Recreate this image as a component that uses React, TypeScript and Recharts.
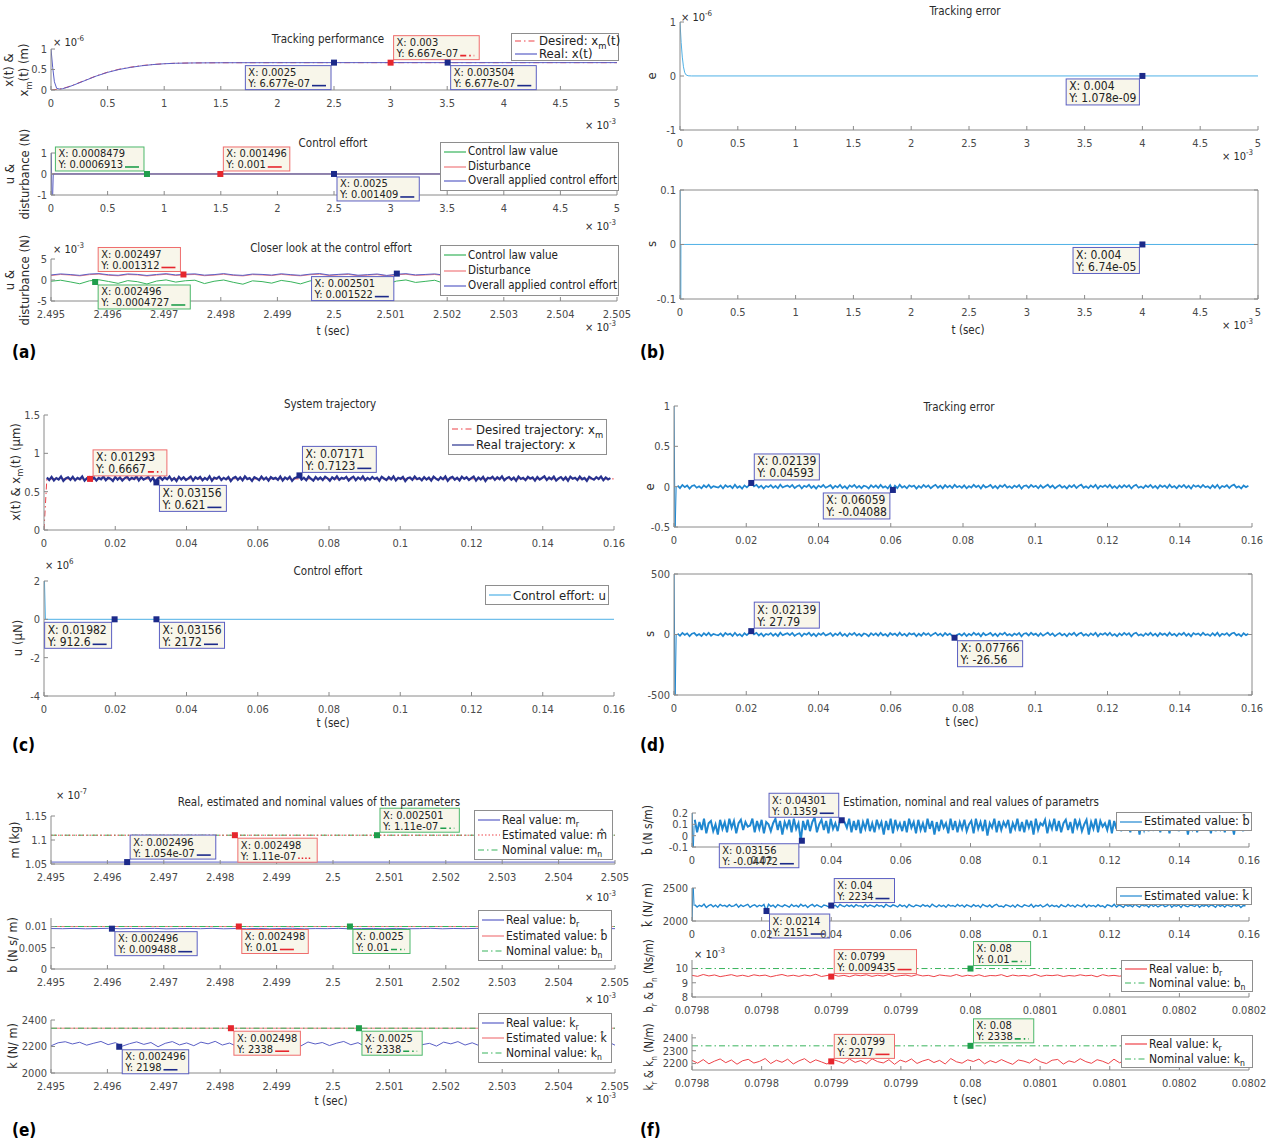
import React from "react";
import { LineChart, Line, XAxis, YAxis, ReferenceDot } from "recharts";

const FONT = '"Liberation Sans Narrow", "DejaVu Sans Condensed", "Liberation Sans", Arial, sans-serif';

// ---------- tick sets ----------
const X_MS = [0, 0.5, 1, 1.5, 2, 2.5, 3, 3.5, 4, 4.5, 5];
const X_ZOOM = [2.495, 2.496, 2.497, 2.498, 2.499, 2.5, 2.501, 2.502, 2.503, 2.504, 2.505];
const X_LONG = [0, 0.02, 0.04, 0.06, 0.08, 0.1, 0.12, 0.14, 0.16];
const X_F = [0.0798, 0.07985, 0.0799, 0.07995, 0.08, 0.08005, 0.0801, 0.08015, 0.0802];
const X_F_LABELS = ["0.0798", "0.0798", "0.0799", "0.0799", "0.08", "0.0801", "0.0801", "0.0802", "0.0802"];

// ---------- (a) x in 10^-3 s ----------
const A1_T = [0, 0.015, 0.03, 0.05, 0.08, 0.1, 0.15, 0.2, 0.3, 0.4, 0.5, 0.6, 0.7, 0.8, 0.9, 1.0, 1.1, 1.25, 1.5, 2.0, 3.0, 5.0];
const A1_REAL = [1.0, 0.55, 0.2, 0.04, 0.02, 0.03, 0.07, 0.12, 0.23, 0.34, 0.43, 0.5, 0.55, 0.59, 0.62, 0.64, 0.652, 0.66, 0.665, 0.667, 0.6677, 0.6677];
const A1_DES_T = [0, 0.05, 0.1, 0.15, 0.2, 0.3, 0.4, 0.5, 0.6, 0.7, 0.8, 0.9, 1.0, 1.1, 1.25, 1.5, 2.0, 3.0, 5.0];
const A1_DES = [0, 0.015, 0.035, 0.075, 0.125, 0.235, 0.345, 0.435, 0.505, 0.555, 0.595, 0.622, 0.641, 0.653, 0.66, 0.665, 0.6667, 0.6667, 0.6667];
const A1_TIPS = [[2.5, 0.6677, "0.0025", "6.677e-07"], [3.0, 0.6667, "0.003", "6.667e-07"], [3.504, 0.6677, "0.003504", "6.677e-07"]];

const A2_T = [0, 0.01, 0.02, 5];
const A2_OVERALL = [2, -2, 0.0014, 0.0014];
const A2_FLAT_T = [0, 5];
const A2_CTRL = [0.0007, 0.0007];
const A2_DIST = [0.001, 0.001];
const A2_TIPS = [[0.8479, 0.0006913, "0.0008479", "0.0006913"], [1.496, 0.001, "0.001496", "0.001"], [2.5, 0.001409, "0.0025", "0.001409"]];

// closer look, y in 10^-3 N
const A3_DIST = [1.05, 1.32, 1.18, 0.98, 1.27, 1.41, 1.12, 1.0, 1.3, 1.22, 0.95, 1.18, 1.36, 1.08, 1.25, 1.31, 1.02, 1.16, 1.38, 1.1,
  0.97, 1.28, 1.2, 1.05, 1.34, 1.14, 0.99, 1.26, 1.39, 1.07, 1.21, 1.33, 1.01, 1.15, 1.29, 0.96, 1.24, 1.37, 1.09, 1.19,
  1.31, 1.03, 1.17, 1.35, 1.11, 0.98, 1.27, 1.23, 1.06, 1.32, 1.13, 1.0, 1.29, 1.4, 1.08, 1.2, 1.34, 1.04, 1.25, 1.16];
const A3_OVERALL = [1.2, 1.45, 1.3, 1.1, 1.42, 1.52, 1.25, 1.12, 1.44, 1.33, 1.08, 1.31, 1.5, 1.2, 1.38, 1.46, 1.15, 1.28, 1.52, 1.22,
  1.1, 1.41, 1.33, 1.17, 1.48, 1.27, 1.11, 1.39, 1.53, 1.19, 1.34, 1.47, 1.14, 1.27, 1.43, 1.09, 1.37, 1.51, 1.21, 1.32,
  1.45, 1.16, 1.3, 1.49, 1.24, 1.1, 1.4, 1.36, 1.18, 1.46, 1.26, 1.12, 1.43, 1.54, 1.2, 1.33, 1.48, 1.16, 1.38, 1.29];
const A3_CTRL = [-0.3, -0.05, -0.45, -0.9, -0.2, 0.05, -0.35, -0.8, -0.15, -0.4, -0.95, -0.25, 0.02, -0.5, -0.18, -0.05, -0.85, -0.3, 0.0, -0.55,
  -1.0, -0.2, -0.38, -0.75, -0.1, -0.42, -0.92, -0.22, 0.03, -0.6, -0.28, -0.08, -0.88, -0.35, -0.12, -0.98, -0.26, 0.01, -0.58, -0.33,
  -0.06, -0.82, -0.4, -0.02, -0.48, -0.94, -0.16, -0.3, -0.7, -0.04, -0.44, -0.9, -0.14, 0.04, -0.62, -0.32, -0.07, -0.86, -0.24, -0.36];
const A3_TIPS = [[2.49734, 1.312, "0.002497", "0.001312"], [2.49578, -0.4727, "0.002496", "-0.0004727"], [2.50111, 1.522, "0.002501", "0.001522"]];

// ---------- (b) ----------
const B1_T = [0, 0.01, 0.02, 0.03, 0.04, 0.05, 0.07, 0.1, 5];
const B1_E = [1, 0.62, 0.35, 0.17, 0.07, 0.025, 0.004, 0.001, 0.001];
const B1_TIPS = [[4, 0.001078, "0.004", "1.078e-09"]];
const B2_T = [0, 0.004, 0.008, 5];
const B2_S = [0.5, -0.5, 0.0001, 0.0000674];
const B2_TIPS = [[4, 0.0000674, "0.004", "6.74e-05"]];

// ---------- (c) ----------
const C1_DES_T = [0, 0.0008, 0.16];
const C1_DES = [0, 0.6667, 0.6667];
const C1_REAL = [
  0.684, 0.651, 0.692, 0.646, 0.677, 0.659, 0.698, 0.641, 0.673, 0.688, 0.655, 0.694, 0.648, 0.681, 0.662, 0.699, 0.643, 0.676, 0.69, 0.652,
  0.686, 0.645, 0.679, 0.661, 0.697, 0.65, 0.683, 0.668, 0.64, 0.693, 0.657, 0.687, 0.644, 0.675, 0.696, 0.653, 0.68, 0.664, 0.7, 0.647,
  0.689, 0.658, 0.674, 0.695, 0.642, 0.682, 0.621, 0.671, 0.691, 0.654, 0.685, 0.663, 0.698, 0.649, 0.678, 0.639, 0.694, 0.66, 0.686, 0.651,
  0.673, 0.697, 0.645, 0.688, 0.666, 0.692, 0.648, 0.679, 0.656, 0.7, 0.643, 0.684, 0.67, 0.695, 0.652, 0.681, 0.661, 0.69, 0.638, 0.676,
  0.693, 0.655, 0.687, 0.647, 0.699, 0.664, 0.678, 0.641, 0.689, 0.672, 0.65, 0.696, 0.658, 0.683, 0.644, 0.691, 0.667, 0.68, 0.653, 0.698,
  0.646, 0.685, 0.662, 0.694, 0.64, 0.677, 0.688, 0.712, 0.657, 0.682, 0.649, 0.697, 0.669, 0.643, 0.69, 0.659, 0.684, 0.651, 0.695, 0.674,
  0.642, 0.687, 0.663, 0.699, 0.654, 0.68, 0.668, 0.692, 0.645, 0.676, 0.696, 0.65, 0.685, 0.661, 0.7, 0.648, 0.679, 0.657, 0.691, 0.665,
  0.683, 0.641, 0.694, 0.672, 0.652, 0.689, 0.66, 0.698, 0.646, 0.681, 0.667, 0.693, 0.639, 0.675, 0.686, 0.655, 0.697, 0.663, 0.678, 0.649,
  0.69, 0.658, 0.684, 0.644, 0.696, 0.67, 0.651, 0.687, 0.662, 0.699, 0.643, 0.679, 0.692, 0.656, 0.682, 0.647, 0.694, 0.666, 0.688, 0.653,
  0.677, 0.698, 0.645, 0.685, 0.66, 0.693, 0.64, 0.681, 0.671, 0.695, 0.654, 0.689, 0.663, 0.7, 0.648, 0.676, 0.691, 0.657, 0.683, 0.642,
  0.697, 0.665, 0.68, 0.65, 0.694, 0.669, 0.686, 0.644, 0.692, 0.659, 0.678, 0.699, 0.652, 0.684, 0.661, 0.696, 0.646, 0.673, 0.69, 0.655,
  0.687, 0.643, 0.695, 0.668, 0.682, 0.651, 0.698, 0.662, 0.679, 0.641, 0.693, 0.674, 0.656, 0.689, 0.666, 0.697, 0.649, 0.685, 0.66, 0.677];
const C1_TIPS = [[0.01293, 0.6667, "0.01293", "0.6667"], [0.03156, 0.621, "0.03156", "0.621"], [0.07171, 0.7123, "0.07171", "0.7123"]];
const C2_T = [0, 0.0004, 0.16];
const C2_U = [3, 0.0009, 0.002];
const C2_TIPS = [[0.01982, 0.0009126, "0.01982", "912.6"], [0.03156, 0.002172, "0.03156", "2172"]];

// ---------- (d) ----------
const D_T0 = [0, 0.0003, 0.0006];
const D1_E0 = [1, -0.6, 0];
const D1_E = [
  0.012, -0.018, 0.021, -0.006, 0.015, -0.024, 0.009, 0.019, -0.013, 0.004, -0.021, 0.017, -0.009, 0.023, -0.016, 0.007, -0.003, -0.011, 0.014, -0.022,
  0.018, -0.004, 0.011, -0.019, 0.024, -0.014, 0.006, -0.025, 0.016, -0.008, 0.02, 0.046, 0.003, 0.022, -0.012, 0.013, -0.023, 0.008, -0.005, 0.019,
  -0.015, 0.01, -0.02, 0.025, -0.01, 0.004, 0.015, -0.007, 0.021, -0.018, 0.005, 0.017, -0.022, 0.012, -0.003, 0.023, -0.016, 0.009, -0.024, 0.014,
  -0.006, 0.02, -0.013, 0.002, 0.018, -0.021, 0.011, -0.009, 0.024, -0.017, 0.007, -0.025, 0.016, -0.004, 0.021, -0.014, 0.01, -0.019, 0.013, 0.003,
  -0.022, 0.018, -0.008, 0.015, -0.016, 0.022, -0.011, 0.006, -0.023, 0.019, -0.041, 0.012, -0.018, 0.024, -0.012, 0.008, -0.02, 0.017, -0.002, 0.014,
  -0.024, 0.01, -0.015, 0.021, -0.007, 0.016, -0.019, 0.005, 0.023, -0.013, 0.011, -0.021, 0.019, -0.01, 0.013, -0.017, 0.022, -0.006, 0.009, -0.014,
  0.017, -0.02, 0.008, -0.012, 0.023, -0.005, 0.014, -0.024, 0.019, -0.009, 0.003, 0.021, -0.016, 0.01, -0.022, 0.015, -0.003, 0.024, -0.011, 0.006,
  -0.018, 0.013, -0.007, 0.02, -0.025, 0.009, 0.016, -0.013, 0.022, -0.004, 0.011, -0.02, 0.018, -0.015, 0.005, 0.024, -0.01, 0.014, -0.021, 0.002,
  0.019, -0.012, 0.007, -0.023, 0.015, -0.006, 0.021, -0.017, 0.01, 0.025, -0.014, 0.004, -0.019, 0.016, -0.008, 0.022, -0.024, 0.012, -0.003, 0.018,
  -0.009, 0.023, -0.016, 0.006, -0.021, 0.014, -0.011, 0.02, -0.005, 0.017, -0.023, 0.009, 0.024, -0.013, 0.003, -0.018, 0.015, -0.007, 0.021, -0.014,
  0.01, -0.022, 0.018, -0.004, 0.013, -0.017, 0.024, -0.01, 0.007, -0.02, 0.016, -0.006, 0.022, -0.015, 0.011, -0.025, 0.019, -0.002, 0.014, -0.012,
  0.021, -0.008, 0.005, -0.019, 0.017, -0.013, 0.023, -0.021, 0.009, -0.004, 0.018, -0.016, 0.012, 0.025, -0.011, 0.006, -0.023, 0.015, -0.007, 0.011];
const D1_TIPS = [[0.02139, 0.04593, "0.02139", "0.04593"], [0.06059, -0.04088, "0.06059", "-0.04088"]];
const D2_S0 = [600, -600, 0];
const D2_S = [
  8, -11, 13, -4, 10, -14, 6, 12, -9, 3, -13, 11, -6, 14, -10, 5, -2, -7, 9, -13,
  12, -3, 7, -12, 14, -9, 4, -15, 10, -5, 13, 28, 2, 14, -8, 9, -14, 5, -3, 12,
  -10, 7, -13, 15, -6, 3, 10, -5, 13, -11, 3, 11, -14, 8, -2, 14, -10, 6, -15, 9,
  -4, 13, -8, 1, 12, -13, 7, -6, 15, -11, 5, -15, 10, -3, 13, -9, 6, -12, 8, 2,
  -14, 11, -5, 10, -10, 14, -7, 4, -14, 12, -3, 8, -11, 15, -8, 5, -13, 11, -1, 9,
  -15, 6, -10, 13, -4, 10, -12, 3, 14, -8, 7, -13, 12, -6, 8, -11, -27, -4, 6, -9,
  11, -13, 5, -8, 15, -3, 9, -15, 12, -6, 2, 13, -10, 7, -14, 10, -2, 15, -7, 4,
  -12, 8, -4, 13, -15, 6, 10, -8, 14, -3, 7, -13, 11, -10, 3, 15, -6, 9, -14, 1,
  12, -8, 5, -15, 10, -4, 14, -11, 6, 15, -9, 3, -12, 10, -5, 14, -15, 8, -2, 12,
  -6, 15, -10, 4, -14, 9, -7, 13, -3, 11, -15, 6, 15, -8, 2, -12, 10, -5, 14, -9,
  7, -14, 12, -3, 8, -11, 15, -6, 5, -13, 10, -4, 14, -10, 7, -15, 12, -1, 9, -8,
  14, -5, 3, -12, 11, -8, 15, -14, 6, -3, 12, -10, 8, 15, -7, 4, -15, 10, -5, 7];
const D2_TIPS = [[0.02139, 27.79, "0.02139", "27.79"], [0.07766, -26.56, "0.07766", "-26.56"]];

// ---------- (e) x in 10^-3 s ----------
const E_FLAT_T = [2.495, 2.505];
const E1_REAL = [1.054, 1.054];
const E1_EST = [1.11, 1.11];
const E1_NOM = [1.11, 1.11];
const E1_TIPS = [[2.49635, 1.054, "0.002496", "1.054e-07"], [2.49826, 1.11, "0.002498", "1.11e-07"], [2.50078, 1.11, "0.002501", "1.11e-07"]];
const E2_REAL = [0.00952, 0.00948, 0.00955, 0.00946, 0.00951, 0.00957, 0.00947, 0.00953, 0.00949, 0.00956, 0.00945, 0.0095, 0.00954, 0.00948, 0.00957, 0.00946, 0.00952, 0.00949, 0.00955, 0.00947,
  0.00953, 0.00958, 0.00946, 0.00951, 0.00949, 0.00956, 0.00945, 0.00952, 0.00954, 0.00948, 0.00955, 0.00947, 0.0095, 0.00957, 0.00946, 0.00953, 0.00949, 0.00956, 0.00945, 0.00951,
  0.00954, 0.00948, 0.00957, 0.00946, 0.00952, 0.0095, 0.00955, 0.00947, 0.00953, 0.00949];
const E2_EST = [0.01, 0.01];
const E2_NOM = [0.01, 0.01];
const E2_TIPS = [[2.49608, 0.009488, "0.002496", "0.009488"], [2.49833, 0.01, "0.002498", "0.01"], [2.5003, 0.01, "0.0025", "0.01"]];
const E3_REAL = [2205, 2228, 2236, 2219, 2232, 2210, 2225, 2238, 2214, 2229, 2203, 2221, 2235, 2216, 2230, 2198, 2224, 2237, 2212, 2227,
  2206, 2233, 2220, 2239, 2211, 2226, 2202, 2231, 2218, 2236, 2209, 2223, 2240, 2215, 2228, 2204, 2234, 2219, 2230, 2207,
  2225, 2238, 2213, 2229, 2200, 2222, 2236, 2217, 2232, 2208, 2227, 2239, 2214, 2224, 2203, 2233, 2220, 2237, 2211, 2228,
  2206, 2231, 2216, 2235, 2209, 2226, 2240, 2218, 2223, 2201, 2234, 2221, 2238, 2212, 2229, 2205, 2232, 2219, 2236, 2210];
const E3_EST = [2338, 2338];
const E3_NOM = [2338, 2338];
const E3_TIPS = [[2.49621, 2198, "0.002496", "2198"], [2.49819, 2338, "0.002498", "2338"], [2.50046, 2338, "0.0025", "2338"]];

// ---------- (f) ----------
const F1_B0 = [0.3, -0.2, 0.09];
const F1_B = [
  0.14, 0.03, 0.12, 0.05, 0.15, 0.02, 0.11, 0.13, 0.04, 0.1, 0.01, 0.14, 0.06, 0.12, 0.03, 0.15, 0.07, 0.13, 0.02, 0.11,
  0.14, 0.05, 0.12, 0.08, 0.09, 0.15, 0.03, 0.13, 0.06, 0.14, 0.02, 0.12, 0.1, 0.04, 0.11, 0.15, 0.05, 0.13, 0.01, 0.12,
  0.07, 0.14, 0.03, 0.15, 0.06, 0.11, -0.045, 0.13, 0.05, 0.14, 0.04, 0.12, 0.16, 0.03, 0.1, 0.14, 0.05, 0.13, 0.02, 0.15,
  0.06, 0.11, 0.04, 0.14, 0.136, 0.12, 0.07, 0.15, 0.03, 0.13, 0.05, 0.14, 0.02, 0.12, 0.06, 0.15, 0.04, 0.11, 0.03, 0.14,
  0.07, 0.12, 0.01, 0.13, 0.05, 0.15, 0.02, 0.14, 0.06, 0.11, 0.04, 0.13, 0.03, 0.15, 0.07, 0.12, 0.02, 0.14, 0.05, 0.11,
  0.03, 0.15, 0.06, 0.13, 0.01, 0.12, 0.04, 0.14, 0.07, 0.11, 0.02, 0.15, 0.05, 0.13, 0.03, 0.12, 0.06, 0.14, 0.04, 0.1,
  0.13, 0.02, 0.15, 0.06, 0.12, 0.04, 0.14, 0.0, 0.11, 0.07, 0.15, 0.03, 0.13, 0.05, 0.12, 0.08, 0.14, 0.02, 0.11, 0.06,
  0.15, 0.04, 0.12, 0.03, 0.14, 0.07, 0.13, 0.01, 0.15, 0.05, 0.11, 0.09, 0.14, 0.02, 0.12, 0.06, 0.15, 0.04, 0.13, 0.03,
  0.11, 0.14, 0.05, 0.12, 0.02, 0.15, 0.07, 0.13, 0.04, 0.1, 0.14, 0.01, 0.12, 0.06, 0.15, 0.03, 0.13, 0.08, 0.11, 0.05,
  0.14, 0.02, 0.13, 0.06, 0.15, 0.04, 0.11, 0.09, 0.12, 0.03, 0.14, 0.07, 0.15, 0.01, 0.13, 0.05, 0.12, 0.04, 0.14, 0.06,
  0.1, 0.15, 0.03, 0.12, 0.07, 0.14, 0.02, 0.13, 0.05, 0.15, 0.04, 0.11, 0.08, 0.14, 0.01, 0.12, 0.06, 0.15, 0.03, 0.13,
  0.05, 0.14, 0.07, 0.11, 0.02, 0.15, 0.04, 0.12, 0.06, 0.13, 0.03, 0.14, 0.08, 0.11, 0.01, 0.15, 0.05, 0.12, 0.04, 0.13];
const F1_TIPS = [[0.04301, 0.1359, "0.04301", "0.1359"], [0.03156, -0.04472, "0.03156", "-0.04472"]];
const F2_K0 = [1900, 2600, 2230];
const F2_K = [
  2245, 2212, 2238, 2221, 2256, 2205, 2233, 2249, 2216, 2241, 2208, 2252, 2226, 2237, 2214, 2247, 2219, 2229, 2255, 2210,
  2243, 2219, 2236, 2251, 2207, 2232, 2246, 2215, 2239, 2224, 2250, 2151, 2253, 2222, 2240, 2206, 2248, 2228, 2217, 2244,
  2230, 2209, 2250, 2220, 2237, 2213, 2254, 2225, 2242, 2204, 2235, 2251, 2218, 2246, 2227, 2210, 2243, 2232, 2215, 2234,
  2223, 2238, 2207, 2252, 2229, 2216, 2245, 2221, 2240, 2211, 2247, 2226, 2233, 2208, 2250, 2219, 2241, 2230, 2214, 2248,
  2224, 2236, 2209, 2253, 2228, 2217, 2244, 2231, 2212, 2246, 2222, 2239, 2206, 2251, 2227, 2215, 2242, 2233, 2218, 2249,
  2225, 2237, 2210, 2254, 2229, 2213, 2245, 2220, 2238, 2207, 2248, 2226, 2235, 2216, 2250, 2223, 2241, 2211, 2244, 2230,
  2214, 2247, 2222, 2239, 2205, 2251, 2231, 2218, 2243, 2209, 2236, 2253, 2220, 2228, 2211, 2246, 2234, 2216, 2241, 2207,
  2249, 2226, 2213, 2244, 2232, 2219, 2252, 2208, 2237, 2224, 2245, 2212, 2229, 2255, 2217, 2240, 2221, 2233, 2206, 2247,
  2227, 2215, 2250, 2223, 2238, 2210, 2246, 2230, 2218, 2253, 2209, 2242, 2225, 2236, 2214, 2248, 2221, 2231, 2204, 2244,
  2235, 2219, 2252, 2212, 2241, 2228, 2207, 2249, 2224, 2237, 2216, 2254, 2230, 2211, 2245, 2226, 2239, 2208, 2251, 2220,
  2242, 2213, 2233, 2247, 2218, 2229, 2256, 2210, 2238, 2223, 2244, 2206, 2250, 2227, 2215, 2240, 2232, 2219, 2253, 2209,
  2236, 2225, 2248, 2214, 2243, 2231, 2207, 2252, 2222, 2239, 2211, 2246, 2228, 2217, 2250, 2224, 2241, 2205, 2234, 2230];
const F2_TIPS = [[0.04, 2234, "0.04", "2234"], [0.0214, 2151, "0.0214", "2151"]];
const F_FLAT_T = [0.0798, 0.0802];
const F3_REAL = [9.52, 9.45, 9.58, 9.48, 9.55, 9.43, 9.5, 9.57, 9.46, 9.53, 9.44, 9.56, 9.49, 9.54, 9.42, 9.51, 9.58, 9.47, 9.53, 9.45,
  9.55, 9.48, 9.6, 9.44, 9.51, 9.57, 9.46, 9.52, 9.43, 9.55, 9.49, 9.56, 9.45, 9.53, 9.47, 9.59, 9.44, 9.5, 9.54, 9.46,
  9.57, 9.48, 9.52, 9.43, 9.55, 9.5, 9.46, 9.58, 9.45, 9.53, 9.47, 9.56, 9.44, 9.51, 9.49, 9.57, 9.43, 9.54, 9.48, 9.52,
  9.46, 9.59, 9.45, 9.53, 9.5, 9.55, 9.44, 9.51, 9.47, 9.56, 9.49, 9.53, 9.42, 9.57, 9.48, 9.52, 9.46, 9.55, 9.5, 9.44,
  9.58, 9.47, 9.53, 9.45, 9.56, 9.49, 9.51, 9.43, 9.54, 9.48, 9.57, 9.46, 9.52, 9.5, 9.44, 9.55, 9.47, 9.53, 9.49, 9.51];
const F3_NOM = [10, 10];
const F3_TIPS = [[0.0799, 9.435, "0.0799", "0.009435"], [0.08, 10, "0.08", "0.01"]];
const F4_REAL = [2225, 2203, 2231, 2198, 2219, 2236, 2207, 2228, 2195, 2222, 2233, 2204, 2217, 2239, 2200, 2226, 2210, 2234, 2197, 2221,
  2238, 2206, 2229, 2213, 2196, 2232, 2218, 2202, 2235, 2209, 2224, 2199, 2237, 2215, 2205, 2230, 2194, 2227, 2212, 2236,
  2201, 2220, 2233, 2208, 2225, 2197, 2239, 2214, 2203, 2229, 2216, 2235, 2198, 2223, 2207, 2231, 2211, 2194, 2228, 2219,
  2204, 2237, 2213, 2200, 2226, 2232, 2196, 2221, 2209, 2238, 2215, 2202, 2230, 2218, 2199, 2234, 2206, 2227, 2212, 2197,
  2236, 2220, 2205, 2229, 2193, 2224, 2233, 2210, 2201, 2228, 2216, 2239, 2198, 2222, 2208, 2231, 2203, 2226, 2214, 2219];
const F4_NOM = [2338, 2338];
const F4_TIPS = [[0.0799, 2217, "0.0799", "2217"], [0.08, 2338, "0.08", "2338"]];

// ---------- colours ----------
const NAVY = "#5a5fc6";
const NAVY_DARK = "#28328f";
const RED = "#ee4248";
const RED_L = "#f17a7e";
const GREEN = "#38b45c";
const LBLUE = "#4eb0e6";
const BLUE = "#1f87d0";
const MK: Record<string, string> = { navy: "#1c2a8a", red: "#e6262d", green: "#1f9e4c" };
const BD: Record<string, string> = { navy: "#5b5fc2", red: "#ef6d6d", green: "#4cb86b" };
const DD = "6 3 1.5 3"; // dash-dot
const DT = "1.5 2"; // dotted

type Pt = { x: number; y: number };
const pts = (xs: number[], ys: number[]): Pt[] => xs.map((x, i) => ({ x, y: ys[i] }));
// sample times for a recorded trace between t0 and t1
const trace = (t0: number, t1: number, ys: number[]): Pt[] =>
  ys.map((y, i) => ({ x: t0 + ((t1 - t0) * i) / (ys.length - 1), y }));

let ctx: CanvasRenderingContext2D | null = null;
function measure(s: string, fs: number) {
  if (!ctx) ctx = document.createElement("canvas").getContext("2d");
  if (!ctx) return s.length * fs * 0.46;
  ctx.font = `${fs}px ${FONT}`;
  return ctx.measureText(s).width;
}

type Series = { d: Pt[]; c: string; w?: number; dash?: string };
type TipSt = [string, string, string | null]; // colour kind, direction, sample dash ("" solid, null none)

function tipShape(v: any[], st: TipSt, fs: number) {
  return (props: any) => {
    const { cx, cy } = props;
    if (cx == null || cy == null) return <g />;
    const l1 = `X: ${v[2]}`;
    const l2 = `Y: ${v[3]}`;
    const hasS = st[2] !== null;
    const w2 = measure(l2, fs);
    const tw = Math.max(measure(l1, fs), w2 + (hasS ? 18 : 0));
    const bw = tw + 6;
    const bh = fs * 2 + 2;
    const g = 3;
    const left = st[1][1] === "r" ? cx + g : cx - g - bw;
    const top = st[1][0] === "t" ? cy - g - bh : cy + g;
    return (
      <g>
        <rect x={left} y={top} width={bw} height={bh} fill="#f8f6ea" stroke={BD[st[0]]} strokeWidth={1} />
        <text x={left + 3} y={top + fs - 0.5} fontSize={fs} fontFamily={FONT} fill="#222">{l1}</text>
        <text x={left + 3} y={top + 2 * fs - 0.5} fontSize={fs} fontFamily={FONT} fill="#222">{l2}</text>
        {hasS && (
          <line x1={left + 5 + w2} x2={left + 19 + w2} y1={top + 2 * fs - 2} y2={top + 2 * fs - 2}
            stroke={MK[st[0]]} strokeWidth={1.6} strokeDasharray={st[2] || undefined} />
        )}
        <rect x={cx - 3} y={cy - 3} width={6} height={6} fill={MK[st[0]]} />
      </g>
    );
  };
}

type SubProps = {
  x0: number; x1: number; y0: number; y1: number;
  xd: [number, number]; xt: number[]; xl?: string[];
  yd: [number, number]; yt: number[];
  series: Series[];
  tips?: any[][]; tipSt?: TipSt[]; tfs?: number;
  box?: boolean;
};

const PL = 46, PR = 12, PT = 8, PB = 24;
const AX = "#8a8a8a";

function Sub(p: SubProps) {
  const w = p.x1 - p.x0 + PL + PR;
  const h = p.y1 - p.y0 + PT + PB;
  const tick = { fontSize: 11, fill: "#4a4a4a", fontFamily: FONT };
  const fmtX = (v: number) => {
    if (!p.xl) return String(v);
    const i = p.xt.findIndex((t) => Math.abs(t - v) < 1e-9);
    return i >= 0 ? p.xl[i] : "";
  };
  const tfs = p.tfs ?? 11;
  return (
    <div style={{ position: "absolute", left: p.x0 - PL, top: p.y0 - PT }}>
      <LineChart width={w} height={h} style={{ overflow: "visible" }}
        margin={{ top: p.box ? PT - 1 : PT, right: p.box ? PR - 1 : PR, bottom: 0, left: 0 }}>
        <XAxis type="number" dataKey="x" domain={p.xd} ticks={p.xt} tickFormatter={fmtX} interval={0}
          allowDataOverflow height={PB} tickSize={-4} tickMargin={13} tick={tick} stroke={AX} />
        <YAxis type="number" dataKey="y" domain={p.yd} ticks={p.yt} interval={0}
          allowDataOverflow width={PL} tickSize={-4} tickMargin={8} tick={tick} stroke={AX} />
        {p.box && (
          <XAxis xAxisId="top" orientation="top" type="number" domain={p.xd} ticks={p.xt} interval={0}
            allowDataOverflow height={1} tickSize={-4} tickFormatter={() => ""} stroke={AX} />
        )}
        {p.box && (
          <YAxis yAxisId="right" orientation="right" type="number" domain={p.yd} ticks={p.yt} interval={0}
            allowDataOverflow width={1} tickSize={-4} tickFormatter={() => ""} stroke={AX} />
        )}
        {p.series.map((s, i) => (
          <Line key={i} data={s.d} dataKey="y" type="linear" stroke={s.c} strokeWidth={s.w ?? 1}
            strokeDasharray={s.dash} dot={false} activeDot={false} isAnimationActive={false} />
        ))}
        {(p.tips || []).map((t, i) => (
          <ReferenceDot key={"t" + i} x={t[0]} y={t[1]} r={3} ifOverflow="visible"
            shape={tipShape(t, p.tipSt![i], tfs)} />
        ))}
      </LineChart>
    </div>
  );
}

function Txt(props: { x: number; y: number; fs?: number; a?: string; b?: boolean; rot?: boolean; children: React.ReactNode }) {
  const { x, y, fs = 11.5, a = "c", b, rot, children } = props;
  const tx = a === "c" ? "-50%" : a === "r" ? "-100%" : "0";
  return (
    <div style={{ position: "absolute", left: x, top: y, transform: `translate(${tx}, -50%)${rot ? " rotate(-90deg)" : ""}`,
      fontSize: fs, fontFamily: FONT, fontWeight: b ? 700 : 400, color: b ? "#000" : "#2a2a2a",
      whiteSpace: "nowrap", lineHeight: 1.15, textAlign: "center", zIndex: 3 }}>
      {children}
    </div>
  );
}

const Sup = ({ children }: { children: React.ReactNode }) => <sup style={{ fontSize: "0.72em", lineHeight: 0 }}>{children}</sup>;
const Sb = ({ children }: { children: React.ReactNode }) => <sub style={{ fontSize: "0.72em", lineHeight: 0 }}>{children}</sub>;
const Exp = ({ x, y, e, a = "l" }: { x: number; y: number; e: string; a?: string }) => (
  <Txt x={x} y={y} fs={11} a={a}>× 10<Sup>{e}</Sup></Txt>
);

type LegItem = { l: React.ReactNode; c: string; dash?: string };
function Legend({ x, y, w, h, fs = 12, items }: { x: number; y: number; w: number; h: number; fs?: number; items: LegItem[] }) {
  return (
    <div style={{ position: "absolute", left: x, top: y, width: w, height: h, boxSizing: "border-box",
      border: "1px solid #8e8e8e", background: "#fff", display: "flex", flexDirection: "column",
      justifyContent: "space-evenly", padding: "0 3px", fontFamily: FONT, fontSize: fs, color: "#222", zIndex: 2 }}>
      {items.map((it, i) => (
        <div key={i} style={{ display: "flex", alignItems: "center", whiteSpace: "nowrap", lineHeight: 1 }}>
          <svg width={22} height={6} style={{ flex: "none" }}>
            <line x1={0} x2={22} y1={3} y2={3} stroke={it.c} strokeWidth={1.2} strokeDasharray={it.dash} />
          </svg>
          <span style={{ marginLeft: 2 }}>{it.l}</span>
        </div>
      ))}
    </div>
  );
}

const CTRL_LEG: LegItem[] = [
  { l: "Control law value", c: GREEN },
  { l: "Disturbance", c: RED_L },
  { l: "Overall applied control effort", c: NAVY },
];

export default function App() {
  return (
    <div style={{ position: "absolute", left: 0, top: 0, width: 1266, height: 1142, background: "#fff", overflow: "hidden" }}>
      <style>{`.recharts-surface{overflow:visible}`}</style>
      {/* ---------------- (a) ---------------- */}
      <Sub x0={51} x1={617} y0={49} y1={90} xd={[0, 5]} xt={X_MS} yd={[0, 1]} yt={[0, 0.5, 1]}
        series={[{ d: pts(A1_DES_T, A1_DES), c: RED, dash: DD }, { d: pts(A1_T, A1_REAL), c: NAVY }]}
        tips={A1_TIPS} tipSt={[["navy", "bl", ""], ["red", "tr", DD], ["navy", "br", ""]]} />
      <Txt x={328} y={40}>Tracking performance</Txt>
      <Exp x={53} y={43} e="-6" />
      <Exp x={585} y={126} e="-3" />
      <Txt x={17} y={70} fs={13} rot>x(t) &amp;<br />x<Sb>m</Sb>(t) (m)</Txt>
      <Legend x={511} y={33} w={108} h={28} fs={13} items={[
        { l: <>Desired: x<Sb>m</Sb>(t)</>, c: RED, dash: DD },
        { l: "Real: x(t)", c: NAVY },
      ]} />

      <Sub x0={51} x1={617} y0={153} y1={195} xd={[0, 5]} xt={X_MS} yd={[-1, 1]} yt={[-1, 0, 1]}
        series={[{ d: pts(A2_FLAT_T, A2_CTRL), c: GREEN }, { d: pts(A2_FLAT_T, A2_DIST), c: RED_L }, { d: pts(A2_T, A2_OVERALL), c: NAVY }]}
        tips={A2_TIPS} tipSt={[["green", "tl", ""], ["red", "tr", ""], ["navy", "br", ""]]} />
      <Txt x={333} y={144}>Control effort</Txt>
      <Exp x={585} y={227} e="-3" />
      <Txt x={18} y={174} fs={13} rot>u &amp;<br />disturbance (N)</Txt>
      <Legend x={440} y={142} w={179} h={49} fs={11.5} items={CTRL_LEG} />

      <Sub x0={51} x1={617} y0={259} y1={301} xd={[2.495, 2.505]} xt={X_ZOOM} yd={[-5, 5]} yt={[-5, 0, 5]}
        series={[{ d: trace(2.495, 2.505, A3_CTRL), c: GREEN }, { d: trace(2.495, 2.505, A3_DIST), c: RED_L }, { d: trace(2.495, 2.505, A3_OVERALL), c: NAVY }]}
        tips={A3_TIPS} tipSt={[["red", "tl", ""], ["green", "br", ""], ["navy", "bl", ""]]} />
      <Txt x={331} y={249}>Closer look at the control effort</Txt>
      <Exp x={53} y={250} e="-3" />
      <Exp x={585} y={328} e="-3" />
      <Txt x={333} y={332}>t (sec)</Txt>
      <Txt x={18} y={280} fs={13} rot>u &amp;<br />disturbance (N)</Txt>
      <Legend x={440} y={245} w={179} h={51} fs={11.5} items={CTRL_LEG} />
      <Txt x={12} y={353} fs={17} a="l" b>(a)</Txt>

      {/* ---------------- (b) ---------------- */}
      <Sub x0={680} x1={1258} y0={22} y1={130} xd={[0, 5]} xt={X_MS} yd={[-1, 1]} yt={[-1, 0, 1]}
        series={[{ d: pts(B1_T, B1_E), c: LBLUE }]}
        tips={B1_TIPS} tipSt={[["navy", "bl", null]]} tfs={12} />
      <Txt x={965} y={12}>Tracking error</Txt>
      <Exp x={681} y={18} e="-6" />
      <Exp x={1222} y={157} e="-3" />
      <Txt x={652} y={76} fs={13} rot>e</Txt>

      <Sub x0={680} x1={1258} y0={190} y1={299} xd={[0, 5]} xt={X_MS} yd={[-0.1, 0.1]} yt={[-0.1, 0, 0.1]} box
        series={[{ d: pts(B2_T, B2_S), c: LBLUE }]}
        tips={B2_TIPS} tipSt={[["navy", "bl", null]]} tfs={12} />
      <Exp x={1222} y={326} e="-3" />
      <Txt x={968} y={331}>t (sec)</Txt>
      <Txt x={652} y={244} fs={13} rot>s</Txt>
      <Txt x={640} y={353} fs={17} a="l" b>(b)</Txt>

      {/* ---------------- (c) ---------------- */}
      <Sub x0={44} x1={614} y0={415} y1={530} xd={[0, 0.16]} xt={X_LONG} yd={[0, 1.5]} yt={[0, 0.5, 1, 1.5]}
        series={[{ d: pts(C1_DES_T, C1_DES), c: RED, dash: DD }, { d: trace(0.0008, 0.159, C1_REAL), c: NAVY_DARK, w: 2.2 }]}
        tips={C1_TIPS} tipSt={[["red", "tr", DD], ["navy", "br", ""], ["navy", "tr", ""]]} tfs={12} />
      <Txt x={330} y={405}>System trajectory</Txt>
      <Txt x={16} y={472} fs={13} rot>x(t) &amp; x<Sb>m</Sb>(t) (μm)</Txt>
      <Legend x={448} y={419} w={159} h={36} fs={13} items={[
        { l: <>Desired trajectory: x<Sb>m</Sb></>, c: RED, dash: DD },
        { l: "Real trajectory: x", c: NAVY_DARK },
      ]} />

      <Sub x0={44} x1={614} y0={581} y1={696} xd={[0, 0.16]} xt={X_LONG} yd={[-4, 2]} yt={[-4, -2, 0, 2]}
        series={[{ d: pts(C2_T, C2_U), c: LBLUE }]}
        tips={C2_TIPS} tipSt={[["navy", "bl", ""], ["navy", "br", ""]]} tfs={12} />
      <Txt x={328} y={572}>Control effort</Txt>
      <Exp x={45} y={566} e="6" />
      <Txt x={333} y={724}>t (sec)</Txt>
      <Txt x={18} y={638} fs={13} rot>u (μN)</Txt>
      <Legend x={485} y={585} w={124} h={20} fs={13} items={[{ l: "Control effort:  u", c: LBLUE }]} />
      <Txt x={12} y={746} fs={17} a="l" b>(c)</Txt>

      {/* ---------------- (d) ---------------- */}
      <Sub x0={674} x1={1252} y0={406} y1={527} xd={[0, 0.16]} xt={X_LONG} yd={[-0.5, 1]} yt={[-0.5, 0, 0.5, 1]}
        series={[{ d: pts(D_T0, D1_E0), c: BLUE }, { d: trace(0.001, 0.159, D1_E), c: BLUE, w: 1.7 }]}
        tips={D1_TIPS} tipSt={[["navy", "tr", null], ["navy", "bl", null]]} tfs={12} />
      <Txt x={959} y={408}>Tracking error</Txt>
      <Txt x={650} y={487} fs={13} rot>e</Txt>

      <Sub x0={674} x1={1252} y0={574} y1={695} xd={[0, 0.16]} xt={X_LONG} yd={[-500, 500]} yt={[-500, 0, 500]} box
        series={[{ d: pts(D_T0, D2_S0), c: BLUE }, { d: trace(0.001, 0.159, D2_S), c: BLUE, w: 1.7 }]}
        tips={D2_TIPS} tipSt={[["navy", "tr", null], ["navy", "br", null]]} tfs={12} />
      <Txt x={962} y={723}>t (sec)</Txt>
      <Txt x={650} y={634} fs={13} rot>s</Txt>
      <Txt x={640} y={746} fs={17} a="l" b>(d)</Txt>

      {/* ---------------- (e) ---------------- */}
      <Sub x0={51} x1={615} y0={816} y1={864} xd={[2.495, 2.505]} xt={X_ZOOM} yd={[1.05, 1.15]} yt={[1.05, 1.1, 1.15]}
        series={[{ d: pts(E_FLAT_T, E1_REAL), c: NAVY }, { d: pts(E_FLAT_T, E1_NOM), c: GREEN, dash: DD }, { d: pts(E_FLAT_T, E1_EST), c: RED, dash: DT }]}
        tips={E1_TIPS} tipSt={[["navy", "tr", ""], ["red", "br", DT], ["green", "tr", DD]]} />
      <Txt x={319} y={803}>Real, estimated and nominal values of the parameters</Txt>
      <Exp x={56} y={796} e="-7" />
      <Exp x={585} y={898} e="-3" />
      <Txt x={15} y={840} fs={12.5} rot>m (kg)</Txt>
      <Legend x={474} y={810} w={139} h={50} fs={12} items={[
        { l: <>Real value: m<Sb>r</Sb></>, c: NAVY },
        { l: "Estimated value: m\u0302", c: RED, dash: DT },
        { l: <>Nominal value: m<Sb>n</Sb></>, c: GREEN, dash: DD },
      ]} />

      <Sub x0={51} x1={615} y0={918} y1={969} xd={[2.495, 2.505]} xt={X_ZOOM} yd={[0, 0.012]} yt={[0, 0.005, 0.01]}
        series={[{ d: trace(2.495, 2.505, E2_REAL), c: NAVY }, { d: pts(E_FLAT_T, E2_EST), c: RED_L }, { d: pts(E_FLAT_T, E2_NOM), c: GREEN, dash: DD }]}
        tips={E2_TIPS} tipSt={[["navy", "br", ""], ["red", "br", ""], ["green", "br", DD]]} />
      <Exp x={585} y={1000} e="-3" />
      <Txt x={13} y={945} fs={12.5} rot>b (N s/ m)</Txt>
      <Legend x={478} y={910} w={134} h={51} fs={12} items={[
        { l: <>Real value: b<Sb>r</Sb></>, c: NAVY },
        { l: "Estimated value: b\u0302", c: RED_L },
        { l: <>Nominal value: b<Sb>n</Sb></>, c: GREEN, dash: DD },
      ]} />

      <Sub x0={51} x1={615} y0={1020} y1={1073} xd={[2.495, 2.505]} xt={X_ZOOM} yd={[2000, 2400]} yt={[2000, 2200, 2400]}
        series={[{ d: trace(2.495, 2.505, E3_REAL), c: NAVY }, { d: pts(E_FLAT_T, E3_EST), c: RED_L }, { d: pts(E_FLAT_T, E3_NOM), c: GREEN, dash: DD }]}
        tips={E3_TIPS} tipSt={[["navy", "br", ""], ["red", "br", ""], ["green", "br", DD]]} />
      <Exp x={585} y={1100} e="-3" />
      <Txt x={331} y={1102}>t (sec)</Txt>
      <Txt x={13} y={1046} fs={12.5} rot>k (N/ m)</Txt>
      <Legend x={478} y={1013} w={134} h={50} fs={12} items={[
        { l: <>Real value: k<Sb>r</Sb></>, c: NAVY },
        { l: "Estimated value: k\u0302", c: RED_L },
        { l: <>Nominal value: k<Sb>n</Sb></>, c: GREEN, dash: DD },
      ]} />
      <Txt x={12} y={1131} fs={17} a="l" b>(e)</Txt>

      {/* ---------------- (f) ---------------- */}
      <Sub x0={692} x1={1249} y0={813} y1={847} xd={[0, 0.16]} xt={X_LONG} yd={[-0.1, 0.2]} yt={[-0.1, 0, 0.1, 0.2]}
        series={[{ d: pts(D_T0, F1_B0), c: BLUE }, { d: trace(0.0008, 0.159, F1_B), c: BLUE, w: 2 }]}
        tips={F1_TIPS} tipSt={[["navy", "tl", ""], ["navy", "bl", ""]]} />
      <Txt x={971} y={803}>Estimation, nominal and real values of parametrs</Txt>
      <Txt x={649} y={830} fs={12} rot>b{"\u0302"} (N s/m)</Txt>
      <Legend x={1116} y={812} w={136} h={19} fs={12.5} items={[{ l: "Estimated value: b\u0302", c: BLUE }]} />

      <Sub x0={692} x1={1249} y0={888} y1={921} xd={[0, 0.16]} xt={X_LONG} yd={[2000, 2500]} yt={[2000, 2500]}
        series={[{ d: pts(D_T0, F2_K0), c: BLUE }, { d: trace(0.0008, 0.159, F2_K), c: BLUE, w: 1.4 }]}
        tips={F2_TIPS} tipSt={[["navy", "tr", ""], ["navy", "br", ""]]} />
      <Txt x={649} y={905} fs={12} rot>k{"\u0302"} (N/ m)</Txt>
      <Legend x={1116} y={887} w={136} h={18} fs={12.5} items={[{ l: "Estimated value: k\u0302", c: BLUE }]} />

      <Sub x0={692} x1={1249} y0={960} y1={997} xd={[0.0798, 0.0802]} xt={X_F} xl={X_F_LABELS} yd={[8, 10.6]} yt={[8, 9, 10]}
        series={[{ d: trace(0.0798, 0.0802, F3_REAL), c: RED }, { d: pts(F_FLAT_T, F3_NOM), c: GREEN, dash: DD }]}
        tips={F3_TIPS} tipSt={[["red", "tr", ""], ["green", "tr", DD]]} />
      <Exp x={694} y={955} e="-3" />
      <Txt x={650} y={976} fs={11.5} rot>b<Sb>r</Sb> &amp; b<Sb>n</Sb> (Ns/m)</Txt>
      <Legend x={1121} y={960} w={132} h={32} fs={12} items={[
        { l: <>Real value: b<Sb>r</Sb></>, c: RED },
        { l: <>Nominal value: b<Sb>n</Sb></>, c: GREEN, dash: DD },
      ]} />

      <Sub x0={692} x1={1249} y0={1034} y1={1070} xd={[0.0798, 0.0802]} xt={X_F} xl={X_F_LABELS} yd={[2150, 2430]} yt={[2200, 2300, 2400]}
        series={[{ d: trace(0.0798, 0.0802, F4_REAL), c: RED }, { d: pts(F_FLAT_T, F4_NOM), c: GREEN, dash: DD }]}
        tips={F4_TIPS} tipSt={[["red", "tr", ""], ["green", "tr", DD]]} />
      <Txt x={970} y={1101}>t (sec)</Txt>
      <Txt x={650} y={1057} fs={11.5} rot>k<Sb>r</Sb> &amp; k<Sb>n</Sb> (N/m)</Txt>
      <Legend x={1121} y={1035} w={132} h={33} fs={12} items={[
        { l: <>Real value: k<Sb>r</Sb></>, c: RED },
        { l: <>Nominal value: k<Sb>n</Sb></>, c: GREEN, dash: DD },
      ]} />
      <Txt x={640} y={1131} fs={17} a="l" b>(f)</Txt>
    </div>
  );
}
